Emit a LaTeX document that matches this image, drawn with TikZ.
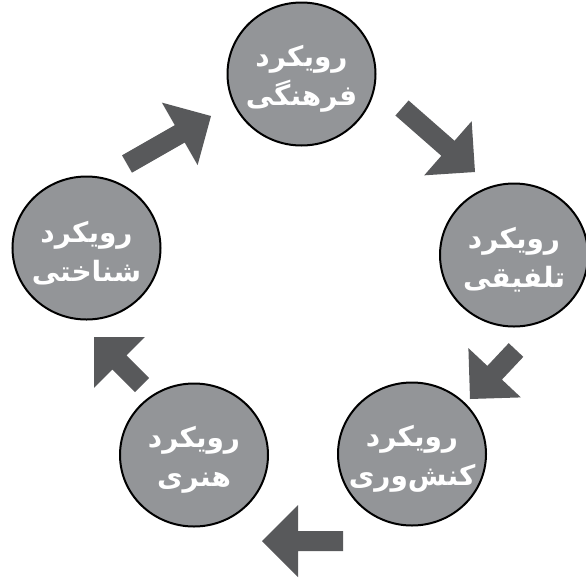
\documentclass[tikz,border=0pt]{standalone}
\usepackage{fontspec}
\TeXXeTstate=1
\newfontfamily\arabicfont[Script=Arabic]{DejaVu Sans}
\usetikzlibrary{calc,shapes.geometric}
\definecolor{circfill}{RGB}{147,149,152}
\definecolor{arrfill}{RGB}{88,89,91}
\newcommand\blockarrow[2]{%
  \coordinate (ab) at ($(#2)!36pt!(#1)$);
  \fill[blockarr] ($(#1)!10pt!90:(#2)$) -- ($(ab)!10pt!90:(#2)$) -- ($(ab)!36pt!90:(#2)$) -- (#2)
     -- ($(ab)!36pt!-90:(#2)$) -- ($(ab)!10pt!-90:(#2)$) -- ($(#1)!10pt!-90:(#2)$) -- cycle;}
\newcommand\rtlline[1]{\raisebox{-5pt}[\height][\depth]{\makebox[0pt]{\beginR #1\endR}}}
\begin{document}
\begin{tikzpicture}[x=1pt,y=-1pt,
  approach/.style={ellipse, draw=black, line width=2pt, fill=circfill,
    minimum width=148pt, minimum height=143pt, inner sep=0pt, text=white,
    font=\arabicfont\bfseries\fontsize{28}{39}\selectfont, align=center},
  blockarr/.style={fill=arrfill, draw=none}]
\useasboundingbox (0,0) rectangle (586,579);
\node[approach] (farhangi) at (301.5,74) {\rtlline{رویکرد}\\\rtlline{فرهنگی}};
\node[approach] (talfighi) at (514,255) {\rtlline{رویکرد}\\\rtlline{تلفیقی}};
\node[approach] (konesh) at (412,454) {\rtlline{رویکرد}\\\rtlline{کنش‌وری}};
\node[approach] (honari) at (194,455) {\rtlline{رویکرد}\\\rtlline{هنری}};
\node[approach] (shenakhti) at (86.5,248) {\rtlline{رویکرد}\\\rtlline{شناختی}};
\coordinate (t1) at (127,164); \coordinate (p1) at (211,116);
\coordinate (t2) at (402,108); \coordinate (p2) at (475,172);
\coordinate (t3) at (516,350); \coordinate (p3) at (470,399);
\coordinate (t4) at (343,541); \coordinate (p4) at (262,541);
\coordinate (t5) at (142,385); \coordinate (p5) at (94,337);
\blockarrow{t1}{p1}
\blockarrow{t2}{p2}
\blockarrow{t3}{p3}
\blockarrow{t4}{p4}
\blockarrow{t5}{p5}
\end{tikzpicture}
\end{document}
